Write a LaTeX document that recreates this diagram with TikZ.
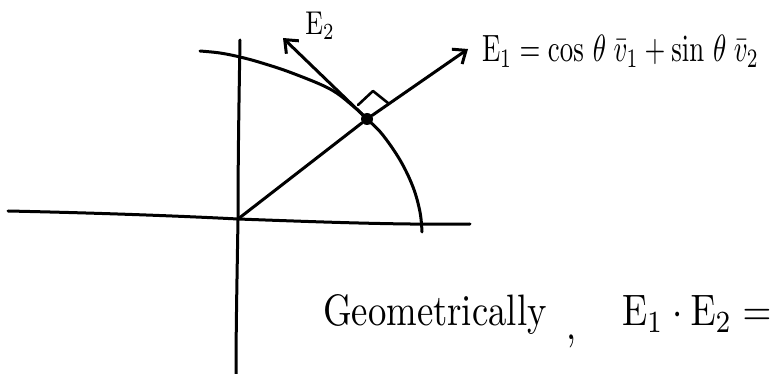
\documentclass[tikz,border=0pt]{standalone}
\usetikzlibrary{arrows.meta}
\begin{document}
\begin{tikzpicture}[x=1pt,y=-1pt,
  pen/.style={line width=3pt, line cap=round, line join=round, black},
  vecarrow/.style={pen, -{Straight Barb[length=11pt,width=18pt,line width=3pt]}},
  handlabel/.style={inner sep=0pt, outer sep=0pt, font=\normalsize}]
\useasboundingbox (0,0) rectangle (780,374);
% key points
\coordinate (O) at (238,219);
\coordinate (xl) at (8,211);
\coordinate (xr) at (470,224);
\coordinate (yt) at (240,40);
\coordinate (yb) at (236,374);
\coordinate (e1) at (468,49);
\coordinate (e2) at (283,38);
\coordinate (ra1) at (358,105);
\coordinate (ra2) at (373,91);
\coordinate (ra3) at (388,103);
\node[circle, fill=black, inner sep=0pt, minimum size=12pt] (P) at (367,119) {};
% axes
\draw[pen] (xl) .. controls (100,213) and (180,216) .. (O) .. controls (320,222) and (400,225) .. (xr);
\draw[pen] (yt) .. controls (239,100) and (238,160) .. (O) .. controls (237,280) and (236,330) .. (yb);
% arc
\draw[pen] plot[smooth, tension=0.6] coordinates {(200,51) (220,53) (240,57) (262,63) (292,73) (330,89) (353,106) (367,119) (382,134) (400,160) (413,187) (420,212) (422,232)};
% vectors
\draw[pen] (O) -- (P);
\draw[vecarrow] (P) -- (e1);
\draw[vecarrow] (P) -- (e2);
% right angle mark
\draw[pen, line width=2.6pt] (ra1) -- (ra2) -- (ra3);
% labels
\node[handlabel, anchor=center] (LE2) at (320,26) {\scalebox{2.6}[3.3]{$\mathrm{E}_2$}};
\node[handlabel, anchor=base west] (LE1) at (482,62) {\scalebox{2.68}[3.8]{$\mathrm{E}_1 = \cos\,\theta\;\bar{v}_1 + \sin\,\theta\;\bar{v}_2$}};
\node[handlabel, anchor=base west] (Lgeo) at (323,326) {\scalebox{3.67}[4.4]{Geometrically}};
\node[handlabel, anchor=base west] (Lcomma) at (566,340) {\scalebox{3.6}[4.4]{,}};
\node[handlabel, anchor=base west] (Ldot) at (622,326) {\scalebox{3.7}[4.4]{$\mathrm{E}_1\cdot \mathrm{E}_2 =$}};
\end{tikzpicture}
\end{document}
